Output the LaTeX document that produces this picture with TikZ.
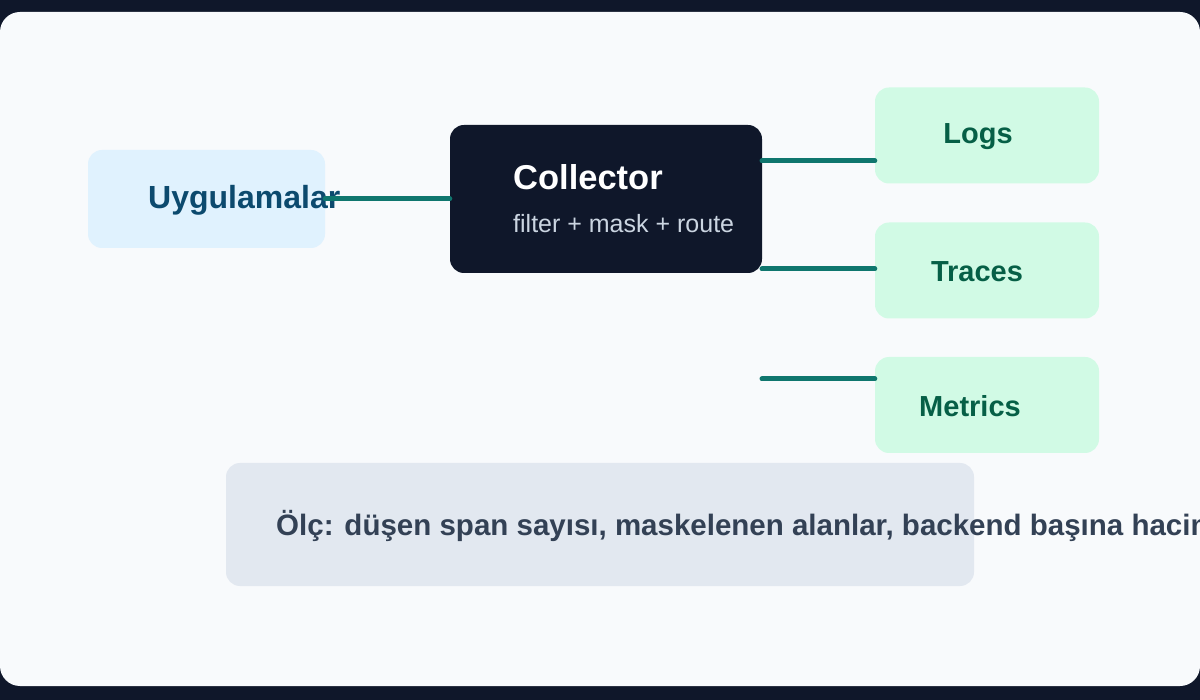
\documentclass[tikz,border=0pt]{standalone}
\usepackage{fontspec}
\setmainfont{Liberation Sans}
\definecolor{frame}{HTML}{0F172A}
\definecolor{panel}{HTML}{F8FAFC}
\definecolor{appfill}{HTML}{E0F2FE}
\definecolor{apptext}{HTML}{0C4A6E}
\definecolor{sinkfill}{HTML}{D1FAE5}
\definecolor{sinktext}{HTML}{065F46}
\definecolor{wire}{HTML}{0F766E}
\definecolor{notefill}{HTML}{E2E8F0}
\definecolor{notetext}{HTML}{334155}
\definecolor{subtext}{HTML}{CBD5E1}
\begin{document}
\begin{tikzpicture}[
  x=1pt, y=-1pt,
  box/.style={rounded corners=14pt, inner sep=0pt},
  sink/.style={box, fill=sinkfill, minimum width=224pt, minimum height=96pt},
  sinklbl/.style={text=sinktext, inner sep=0pt, font=\bfseries\fontsize{29}{34}\selectfont},
  wire/.style={draw=wire, line width=5pt, line cap=round},
]
\useasboundingbox (0,0) rectangle (1200,700);
\fill [frame] (0,0) rectangle (1200,700);
\fill [panel, rounded corners=20pt] (0,12) rectangle (1200,686);

% source and collector
\node [box, fill=appfill, minimum width=237pt, minimum height=98pt] (app) at (206.5,199) {};
\node [anchor=west, text=apptext, font=\bfseries\fontsize{32}{36}\selectfont, inner sep=0pt] (applbl) at (148,200) {Uygulamalar};
\node [box, fill=frame, minimum width=312pt, minimum height=148pt] (col) at (606,199) {};
\node [anchor=west, text=white, font=\bfseries\fontsize{34.5}{40}\selectfont, inner sep=0pt] (coltitle) at (513,177) {Collector};
\node [anchor=west, text=subtext, font=\fontsize{25}{30}\selectfont, inner sep=0pt] (colsub) at (513,224) {filter + mask + route};

% sinks
\node [sink] (logs) at (987,135.5) {};
\node [sinklbl] (logslbl) at (978,137) {Logs};
\node [sink] (traces) at (987,270.5) {};
\node [sinklbl] (traceslbl) at (977,272) {Traces};
\node [sink] (metrics) at (987,405) {};
\node [sinklbl] (metricslbl) at (970,406) {Metrics};

% connectors
\coordinate (c1) at (762,161);
\coordinate (c2) at (762,269);
\coordinate (c3) at (762,379);
\draw [wire] (app.east) -- (col.west);
\draw [wire] (c1) -- (logs.west |- c1);
\draw [wire] (c2) -- (traces.west |- c2);
\draw [wire] (c3) -- (metrics.west |- c3);

% note
\node [box, fill=notefill, minimum width=748pt, minimum height=123pt] (note) at (600,524.5) {};
\node [anchor=west, text=notetext, font=\bfseries\fontsize{29.5}{34}\selectfont, inner sep=0pt] (notelbl) at (276,526) {Ölç: düşen span sayısı, maskelenen alanlar, backend başına hacim};
\end{tikzpicture}
\end{document}
